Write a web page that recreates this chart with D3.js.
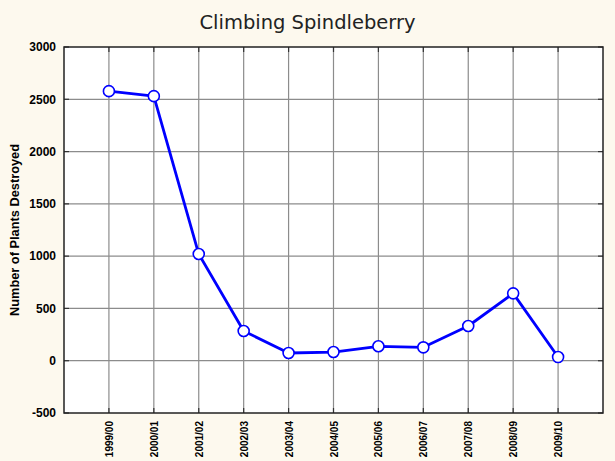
<!DOCTYPE html>
<html><head><meta charset="utf-8">
<script src="https://cdn.jsdelivr.net/npm/d3@7"></script>
<style>body{margin:0;background:#fdf9ee;}svg{display:block;}</style>
</head><body>
<script>
const categories = ["1999/00","2000/01","2001/02","2002/03","2003/04","2004/05","2005/06","2006/07","2007/08","2008/09","2009/10"];
const values = [2578, 2530, 1020, 284, 74, 83, 138, 128, 332, 644, 35];
const yTicks = [-500, 0, 500, 1000, 1500, 2000, 2500, 3000];
const title = "Climbing Spindleberry";
const yLabel = "Number of Plants Destroyed";

const W = 615, H = 461;
const m = {left: 64, right: 12, top: 47, bottom: 48};
const svg = d3.select("body").append("svg").attr("width", W).attr("height", H);
svg.append("rect").attr("width", W).attr("height", H).attr("fill", "#fdf9ee");

const x = d3.scaleLinear().domain([0, categories.length + 1]).range([m.left, W - m.right]);
const y = d3.scaleLinear().domain([-500, 3000]).range([H - m.bottom, m.top]);

svg.append("rect").attr("x", m.left).attr("y", m.top)
  .attr("width", W - m.right - m.left).attr("height", H - m.bottom - m.top).attr("fill", "#fff");

const grid = svg.append("g");
const xGrid = d3.range(1, categories.length + 1);
grid.selectAll(".vg").data(xGrid).join("line")
  .attr("x1", d => x(d)).attr("x2", d => x(d)).attr("y1", m.top).attr("y2", H - m.bottom)
  .attr("stroke", "#8c8c8c").attr("stroke-width", 1.2);
grid.selectAll(".hg").data(yTicks.slice(1, -1)).join("line")
  .attr("y1", d => y(d)).attr("y2", d => y(d)).attr("x1", m.left).attr("x2", W - m.right)
  .attr("stroke", "#8c8c8c").attr("stroke-width", 1.2);

// inner tick marks
const tk = svg.append("g").attr("stroke", "#333").attr("stroke-width", 1.2);
yTicks.forEach(v => {
  tk.append("line").attr("x1", m.left).attr("x2", m.left + 5).attr("y1", y(v)).attr("y2", y(v));
  tk.append("line").attr("x1", W - m.right - 5).attr("x2", W - m.right).attr("y1", y(v)).attr("y2", y(v));
});
xGrid.forEach(v => {
  tk.append("line").attr("x1", x(v)).attr("x2", x(v)).attr("y1", m.top).attr("y2", m.top + 5);
  tk.append("line").attr("x1", x(v)).attr("x2", x(v)).attr("y1", H - m.bottom - 5).attr("y2", H - m.bottom);
});

svg.append("rect").attr("x", m.left).attr("y", m.top)
  .attr("width", W - m.right - m.left).attr("height", H - m.bottom - m.top)
  .attr("fill", "none").attr("stroke", "#222").attr("stroke-width", 1.5);

// y axis labels
const yAxis = d3.axisLeft(y).tickValues(yTicks).tickFormat(d => String(d)).tickSize(0).tickPadding(8);
const ya = svg.append("g").attr("transform", `translate(${m.left},0)`).call(yAxis);
ya.select(".domain").remove();
ya.selectAll("text").attr("font-family", "Arial, 'Liberation Sans', sans-serif")
  .attr("font-weight", "bold").attr("font-size", 12).attr("fill", "#000");

// x axis labels
const xAxis = d3.axisBottom(x).tickValues(xGrid).tickFormat(d => categories[d - 1]).tickSize(0);
const xa = svg.append("g").attr("transform", `translate(0,${H - m.bottom})`).call(xAxis);
xa.select(".domain").remove();
xa.selectAll("text").attr("font-family", "Arial, 'Liberation Sans', sans-serif")
  .attr("font-weight", "bold").attr("font-size", 10).attr("fill", "#000")
  .attr("text-anchor", "end").attr("dy", "0.35em")
  .attr("transform", "translate(0,8) rotate(-90)").attr("x", 0).attr("y", 0);

// y label
svg.append("text").attr("transform", `translate(19,${(m.top + H - m.bottom) / 2}) rotate(-90)`)
  .attr("text-anchor", "middle").attr("font-family", "Arial, 'Liberation Sans', sans-serif")
  .attr("font-weight", "bold").attr("font-size", 12.8).text(yLabel);

// title
svg.append("text").attr("x", W / 2).attr("y", 29).attr("text-anchor", "middle")
  .attr("font-family", "'DejaVu Sans', Verdana, sans-serif").attr("font-size", 19.5).attr("fill", "#222")
  .text(title);

// line
const line = d3.line().x((d, i) => x(i + 1)).y(d => y(d));
svg.append("path").datum(values).attr("d", line).attr("fill", "none")
  .attr("stroke", "#0000ff").attr("stroke-width", 2.8).attr("stroke-linejoin", "round");
svg.selectAll(".pt").data(values).join("circle")
  .attr("cx", (d, i) => x(i + 1)).attr("cy", d => y(d)).attr("r", 5.5)
  .attr("fill", "#fff").attr("stroke", "#0000ff").attr("stroke-width", 1.6);
</script>
</body></html>
